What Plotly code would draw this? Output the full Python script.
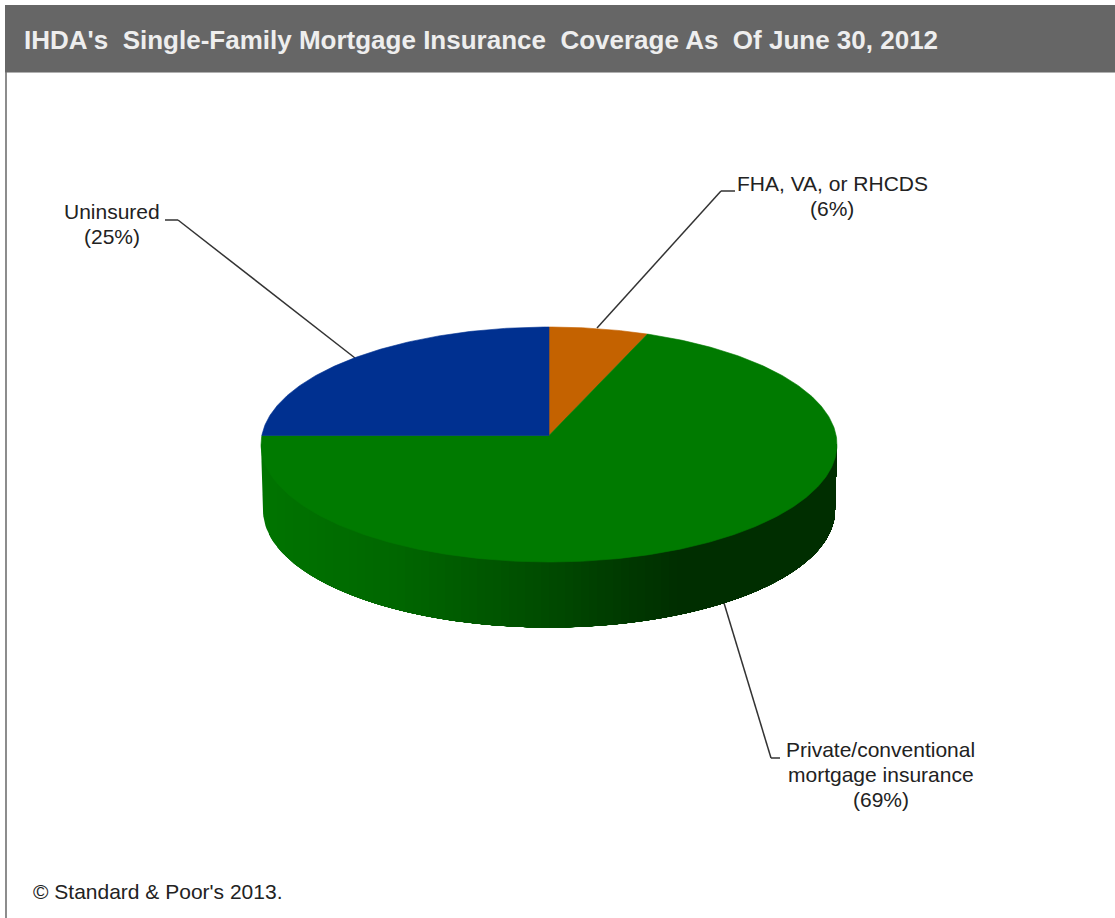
import math
import plotly.graph_objects as go

# ---- data ----
categories = ["FHA, VA, or RHCDS", "Private/conventional mortgage insurance", "Uninsured"]
shares = [6, 69, 25]
slice_colors = ["#c46200", "#007a00", "#003090"]

label_lines = [
    ["FHA, VA, or RHCDS", "(6%)"],
    ["Private/conventional", "mortgage insurance", "(69%)"],
    ["Uninsured", "(25%)"],
]
title_text = "IHDA's\u00a0\u00a0Single-Family Mortgage Insurance\u00a0\u00a0Coverage As\u00a0\u00a0Of June 30, 2012"
source_text = "© Standard & Poor's 2013."

# ---- layout constants (pixels of the 1115x918 page) ----
W, H = 1115, 918
CX, CY, RX, RY = 549.0, 444.5, 288.0, 117.5     # top face ellipse
APEX_Y = 435.5                                   # where the slices meet
WALL_CY, WALL_RX, WALL_RY = 510.5, 286.0, 117.0  # bottom rim ellipse
WALL_STOPS = [(261, 116), (400, 102), (500, 84), (560, 72), (620, 58), (680, 46), (837, 46)]
WALL_STEP = 8

LABEL_FONT = 21
LINE_GAP = 25.0
label_pos = [(832.0, 183.0), (880.5, 749.0), (111.5, 211.0)]
leaders = [
    [(597, 328), (721, 191), (735, 191)],
    [(724, 603), (771, 758), (780, 758)],
    [(355, 358), (178, 220), (165, 220)],
]


def rim_point(frac):
    """Point on the top rim for a cumulative share, by a ray from the apex."""
    a = 2 * math.pi * frac
    h = (CY - APEX_Y) / RY
    c, s = math.cos(a), math.sin(a)
    t = -h * c + math.sqrt((h * c) ** 2 + 1 - h * h)
    return CX + RX * t * s, CY - RY * (h + t * c)


def wall_shade(x):
    for (x0, g0), (x1, g1) in zip(WALL_STOPS, WALL_STOPS[1:]):
        if x <= x1:
            return round(g0 + (g1 - g0) * (x - x0) / (x1 - x0))
    return WALL_STOPS[-1][1]


fig = go.Figure()

# side wall: overlapping polygons, each reaching the right end, painted left to right
x_left = WALL_STOPS[0][0]
x_right = WALL_STOPS[-1][0]
x = x_left
while x < x_right:
    start = max(x, CX - WALL_RX)
    end_angle = math.acos((start - CX) / WALL_RX)
    n = 120
    xs = [x, x_right]
    ys = [CY, CY]
    for i in range(n + 1):
        th = end_angle * i / n
        xs.append(CX + WALL_RX * math.cos(th))
        ys.append(WALL_CY + WALL_RY * math.sin(th))
    fig.add_trace(go.Scatter(
        x=xs, y=ys, mode="lines", fill="toself", hoverinfo="skip",
        fillcolor=f"rgb(0,{wall_shade(x + WALL_STEP / 2)},0)",
        line=dict(width=0), showlegend=False,
    ))
    x += WALL_STEP

# top face slices
cum = 0.0
total = sum(shares)
for name, val, col in zip(categories, shares, slice_colors):
    f0, f1 = cum / total, (cum + val) / total
    n = max(24, int(val * 6))
    rim = [rim_point(f0 + (f1 - f0) * i / n) for i in range(n + 1)]
    fig.add_trace(go.Scatter(
        x=[CX] + [p[0] for p in rim] + [CX],
        y=[APEX_Y] + [p[1] for p in rim] + [APEX_Y],
        mode="lines", fill="toself", fillcolor=col,
        line=dict(width=0.6, color=col), name=name, showlegend=False,
        hovertemplate=f"{name}: {val}%<extra></extra>",
    ))
    cum += val

shapes = [
    dict(type="rect", xref="x", yref="y", x0=5, x1=W, y0=5, y1=72,
         fillcolor="#666666", line=dict(width=0), layer="below"),
    dict(type="line", xref="x", yref="y", x0=5, x1=W, y0=72.5, y1=72.5,
         line=dict(color="#b0b0b0", width=1), layer="below"),
    dict(type="line", xref="x", yref="y", x0=6, x1=6, y0=72, y1=H,
         line=dict(color="#707070", width=1.6), layer="below"),
]
for path in leaders:
    for (x0, y0), (x1, y1) in zip(path, path[1:]):
        shapes.append(dict(type="line", xref="x", yref="y", x0=x0, y0=y0, x1=x1, y1=y1,
                           line=dict(color="#333333", width=1.5), layer="below"))

annotations = []
for lines, (lx, ly) in zip(label_lines, label_pos):
    for i, line in enumerate(lines):
        annotations.append(dict(
            x=lx, y=ly + i * LINE_GAP, xref="x", yref="y", text=line, showarrow=False,
            xanchor="center", yanchor="middle",
            font=dict(family="Liberation Sans", size=LABEL_FONT, color="#222222"),
        ))
annotations.append(dict(
    x=31, y=891, xref="x", yref="y", text=source_text, showarrow=False,
    xanchor="left", yanchor="middle",
    font=dict(family="Liberation Sans", size=LABEL_FONT, color="#222222"),
))

fig.update_layout(
    width=W, height=H, margin=dict(l=0, r=0, t=0, b=0),
    paper_bgcolor="white", plot_bgcolor="white", showlegend=False,
    title=dict(text=f"<b>{title_text}</b>", x=24 / W, xanchor="left", xref="paper",
               y=1 - 40 / H, yanchor="middle", yref="container",
               font=dict(family="Liberation Sans", size=26, color="#eeeeee")),
    xaxis=dict(range=[0, W], visible=False, fixedrange=True),
    yaxis=dict(range=[H, 0], visible=False, fixedrange=True),
    shapes=shapes, annotations=annotations,
)

fig.write_html("out.html", config=dict(displayModeBar=False),
               post_script="document.body.style.margin='0';")
